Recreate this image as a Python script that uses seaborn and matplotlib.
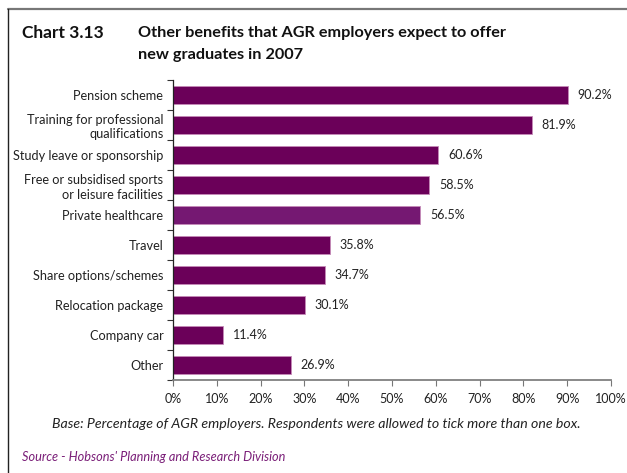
import matplotlib
matplotlib.use("Agg")
import matplotlib.pyplot as plt
import seaborn as sns
import pandas as pd
import numpy as np
from matplotlib.lines import Line2D

categories = [
    "Pension scheme",
    "Training for professional\nqualifications",
    "Study leave or sponsorship",
    "Free or subsidised sports\nor leisure facilities",
    "Private healthcare",
    "Travel",
    "Share options/schemes",
    "Relocation package",
    "Company car",
    "Other",
]
values = [90.2, 81.9, 60.6, 58.5, 56.5, 35.8, 34.7, 30.1, 11.4, 26.9]
bar_colors = ["#6b0059", "#6b0059", "#6b0059", "#6b0059", "#751872",
              "#6b0059", "#6b0059", "#6b0059", "#6b0059", "#6b0059"]
x_ticks = list(range(0, 101, 10))
x_tick_labels = [f"{t}%" for t in x_ticks]

sns.set_theme(style="white")
plt.rcParams["font.family"] = ["Lato", "DejaVu Sans"]

df = pd.DataFrame({"benefit": categories, "pct": values})

fig = plt.figure(figsize=(6.27, 4.73), dpi=100)
ax = fig.add_axes([173 / 627, 1 - 380 / 473, 438 / 627, 300 / 473])

sns.barplot(data=df, y="benefit", x="pct", hue="benefit", palette=bar_colors,
            legend=False, width=0.57, ax=ax, edgecolor="#c58ab8", linewidth=0.6,
            saturation=1)

ax.set_xlim(0, 100)
ax.set_ylim(len(categories) - 0.5, -0.5)
ax.set_xticks(x_ticks)
ax.set_xticklabels(x_tick_labels, fontsize=9, color="#222222")
ax.set_xlabel("")
ax.set_ylabel("")
ax.set_yticks(range(len(categories)))
ax.set_yticklabels(categories, fontsize=9.2, color="#222222", linespacing=1.25)
ax.set_yticks(np.arange(-0.5, len(categories), 1.0), minor=True)

ax.tick_params(axis="y", which="major", length=0, pad=7)
ax.tick_params(axis="y", which="minor", length=4, width=0.8, color="#333333",
               direction="out", left=True)
ax.tick_params(axis="x", which="major", length=4, width=0.8, color="#777777",
               direction="out", bottom=True, pad=5)

for side in ["top", "right"]:
    ax.spines[side].set_visible(False)
ax.spines["left"].set_color("#222222")
ax.spines["left"].set_linewidth(0.9)
ax.spines["bottom"].set_color("#808080")
ax.spines["bottom"].set_linewidth(1.3)

for i, v in enumerate(values):
    ax.text(v + 2.2, i, f"{v:.1f}%", va="center", ha="left", fontsize=9,
            color="#222222")

# Titles
fig.text(22 / 627, 1 - 33 / 473, "Chart 3.13", fontsize=12.5, fontweight="bold",
         va="center", ha="left", color="#111111")
fig.text(138 / 627, 1 - 44 / 473,
         "Other benefits that AGR employers expect to offer\nnew graduates in 2007",
         fontsize=11.7, fontweight="bold", va="center", ha="left",
         color="#111111", linespacing=1.7)

# Notes
fig.text(316 / 627, 1 - 424 / 473,
         "Base: Percentage of AGR employers. Respondents were allowed to tick more than one box.",
         fontsize=10.2, style="italic", ha="center", va="center", color="#222222")
fig.text(22 / 627, 1 - 457 / 473, "Source - Hobsons' Planning and Research Division",
         fontsize=9.2, style="italic", ha="left", va="center", color="#7a1e78")

# Frame lines
fig.add_artist(Line2D([8 / 627, 1.0], [1 - 9 / 473, 1 - 9 / 473],
                      transform=fig.transFigure, color="#777777", linewidth=1.6))
fig.add_artist(Line2D([8 / 627, 8 / 627], [1 - 9 / 473, 0.0],
                      transform=fig.transFigure, color="#222222", linewidth=1.0))

fig.savefig("out.png", dpi=100)
